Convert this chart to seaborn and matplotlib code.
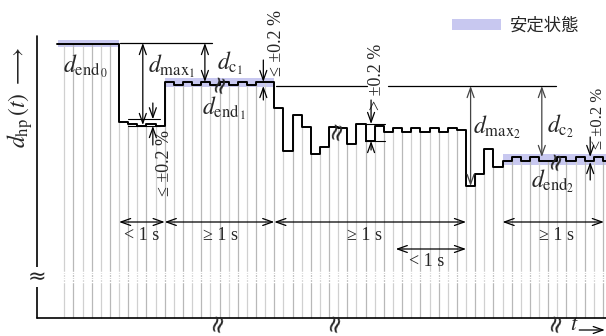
import numpy as np
import matplotlib
matplotlib.use("Agg")
import matplotlib.pyplot as plt
import seaborn as sns
from matplotlib.patches import Patch

# step signal d_hp(t): interval edges (sample index) and level on each interval
edges = [-0.8, 6, 7, 8, 9, 10, 11, 12, 13, 14, 15, 16, 17, 18, 19, 20, 21, 22,
         23, 24, 25, 26, 27, 28, 29, 30, 31, 32, 33, 34, 35, 36, 37, 38, 39, 40,
         41, 42, 43, 44, 45, 46, 47, 48, 49, 50, 51, 52, 53, 54, 55, 56, 57, 58,
         59, 59.3]
levels = [2.74,
          1.957, 1.94, 1.92, 1.94, 1.92,
          2.357, 2.335, 2.357, 2.335, 2.357, 2.335, 2.357, 2.335, 2.357, 2.335, 2.357, 2.357,
          2.10, 1.67, 2.03, 1.91, 1.64, 1.71, 1.91, 1.90, 1.74, 1.94, 1.77,
          1.92, 1.865, 1.897, 1.865, 1.897, 1.865, 1.897, 1.865, 1.897, 1.88,
          1.32, 1.44, 1.69, 1.51,
          1.573, 1.607, 1.573, 1.607, 1.573, 1.573, 1.607, 1.573, 1.607, 1.573, 1.607,
          1.573]
samples = list(range(0, 60))

# steady-state bands: (start, end, low, high)
band_start = [-0.7, 11, 48]
band_end = [6, 23, 59.3]
band_low = [2.715, 2.31, 1.53]
band_high = [2.78, 2.405, 1.64]

band_color = "#c8c8f0"
legend_label = "安定状態"

sns.set_theme(style="white")
plt.rcParams["font.family"] = ["Liberation Serif", "Noto Sans CJK JP", "DejaVu Sans"]
plt.rcParams["mathtext.fontset"] = "stix"

fig = plt.figure(figsize=(6.06, 3.36), dpi=100)
ax = fig.add_axes([0, 0, 1, 1])
ax.set_xlim(-7.04, 59.33)
ax.set_ylim(-0.18, 3.18)
ax.axis("off")

# sample lines under the signal
idx = np.searchsorted(edges, samples, side="right") - 1
stem_top = np.array(levels)[idx]
stem_colors = ["#b8b8b8" if k % 2 else "#d0d0d0" for k in samples]
ax.vlines(samples, 0, stem_top, colors=stem_colors, lw=0.9, zorder=1)
for yb in [0.365, 0.39, 0.415, 0.44, 0.465]:
    ax.hlines(yb, -0.5, 59.5, color="white", lw=1.0, zorder=2)

# steady-state bands
for x0, x1, lo, hi in zip(band_start, band_end, band_low, band_high):
    ax.fill_between([x0, x1], lo, hi, color=band_color, lw=0, zorder=0.5)

# the signal
sns.lineplot(x=edges, y=levels + [levels[-1]], drawstyle="steps-post",
             color="black", lw=1.4, ax=ax, zorder=3)

# axes
ax.plot([-2.99, -2.99], [0, 2.82], color="black", lw=1.2, zorder=4)
ax.plot([-2.99, 59.33], [0, 0], color="black", lw=1.2, zorder=4)

# reference lines
ax.plot([6.1, 16.2], [2.75, 2.75], color="black", lw=0.9, zorder=3)
ax.plot([23.2, 33.2], [2.32, 2.32], color="black", lw=0.9, zorder=3)
ax.plot([35.4, 53.9], [2.32, 2.32], color="black", lw=0.9, zorder=3)
ax.plot([7, 10.5], [1.987, 1.987], color="black", lw=0.8, zorder=3)
ax.plot([7, 10.5], [1.92, 1.92], color="black", lw=0.8, zorder=3)
ax.plot([32.9, 35.1], [1.94, 1.94], color="black", lw=0.8, zorder=3)
ax.plot([32.9, 35.1], [1.77, 1.77], color="black", lw=0.8, zorder=3)


def arrow(x0, y0, x1, y1, style="<->", color="black"):
    ax.annotate("", xy=(x1, y1), xytext=(x0, y0),
                arrowprops=dict(arrowstyle=style + ",head_length=0.7,head_width=0.25",
                                color=color, lw=0.9, shrinkA=0, shrinkB=0,
                                mutation_scale=10), zorder=5)


# magnitude arrows
arrow(8.6, 2.75, 8.6, 1.93)
arrow(15.4, 2.75, 15.4, 2.36)
arrow(44.5, 2.32, 44.5, 1.32, color="#444444")
arrow(52.3, 2.32, 52.3, 1.61, color="#444444")

# tolerance arrows
arrow(9.7, 2.15, 9.7, 1.987, style="->")
arrow(9.7, 1.73, 9.7, 1.92, style="->")
arrow(21.8, 2.58, 21.8, 2.36, style="->")
arrow(21.8, 2.18, 21.8, 2.32, style="->")
arrow(33.6, 2.18, 33.6, 1.94, style="->")
arrow(33.6, 1.68, 33.6, 1.77, style="->")
arrow(57.6, 1.81, 57.6, 1.61, style="->")
arrow(57.6, 1.38, 57.6, 1.56, style="->")

# time arrows
arrow(6, 0.96, 11, 0.96)
arrow(11, 0.96, 23, 0.96)
arrow(23, 0.96, 44, 0.96)
arrow(48, 0.96, 59.1, 0.96)
arrow(36.3, 0.69, 44, 0.69)
for tx, ty, s in [(8.5, 0.82, "< 1 s"), (17.1, 0.82, "≥ 1 s"), (32.9, 0.82, "≥ 1 s"),
                  (39.7, 0.56, "< 1 s"), (53.9, 0.82, "≥ 1 s")]:
    ax.text(tx, ty, s, fontsize=13, ha="center", va="center")

# tolerance labels
for tx, ty, s, fs in [(11.03, 1.55, "≤ ±0.2 %", 13), (23.2, 2.75, "≤ ±0.2 %", 13),
                      (34.2, 2.41, "> ±0.2 %", 13), (58.45, 2.0, "≤ ±0.2 %", 12)]:
    ax.text(tx, ty, s, fontsize=fs, ha="center", va="center", rotation=90)

# quantity labels
for tx, ty, s in [(2.28, 2.52, r"$d_{\mathrm{end}_{\,0}}$"),
                  (11.8, 2.52, r"$d_{\mathrm{max}_{1}}$"),
                  (18.15, 2.55, r"$d_{\mathrm{c}_{1}}$"),
                  (17.5, 2.10, r"$d_{\mathrm{end}_{\,1}}$"),
                  (47.4, 1.91, r"$d_{\mathrm{max}_{2}}$"),
                  (54.3, 1.92, r"$d_{\mathrm{c}_{2}}$"),
                  (53.5, 1.37, r"$d_{\mathrm{end}_{2}}$")]:
    ax.text(tx, ty, s, fontsize=17, ha="center", va="center", zorder=6)

# break marks
for bx, by in [(17.1, 2.35), (29.9, 1.88), (53.8, 1.58), (16.8, -0.04), (29.6, -0.04), (53.9, -0.04)]:
    ax.text(bx, by, "≈", fontsize=17, family="DejaVu Sans", ha="center", va="center",
            rotation=75, zorder=6)
ax.text(-2.99, 0.41, "≈", fontsize=16, family="DejaVu Sans", ha="center", va="center",
        zorder=6, bbox=dict(facecolor="white", edgecolor="none", pad=0))

# axis labels
ax.text(-4.85, 2.21, r"$d_{\mathrm{hp}}\,(t)\ \longrightarrow$", fontsize=17,
        rotation=90, ha="center", va="center")
ax.text(55.9, -0.075, r"$t$", fontsize=16, ha="center", va="center")
arrow(56.4, -0.12, 59.2, -0.12, style="->")

ax.legend(handles=[Patch(facecolor=band_color, edgecolor="none", label=legend_label)],
          loc="center left", bbox_to_anchor=(452 / 606, 1 - 26 / 336), frameon=False,
          borderpad=0, borderaxespad=0, handlelength=2.8, handleheight=0.6,
          handletextpad=0.5, prop={"family": "Noto Sans CJK JP", "size": 12.5})

fig.savefig("out.png", dpi=100)
